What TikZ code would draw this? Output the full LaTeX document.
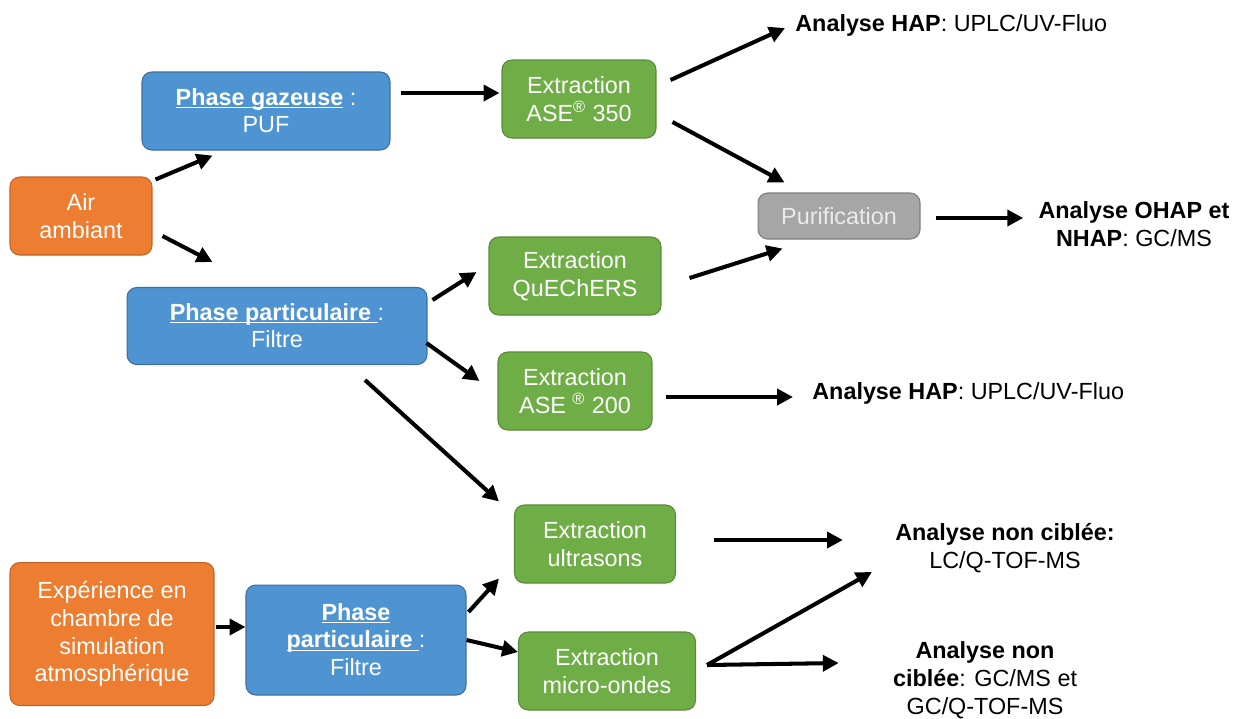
\documentclass[tikz,border=0pt]{standalone}
\usepackage{fontspec}
\setmainfont{Liberation Sans}
\usepackage{xcolor}
\usepackage{tikz}
\usetikzlibrary{arrows.meta, positioning, calc}
\definecolor{airorange}{HTML}{ED7D31}
\definecolor{phaseblue}{HTML}{4F94D2}
\definecolor{extgreen}{HTML}{6FAD46}
\definecolor{purgray}{HTML}{A6A6A6}
\newcommand{\phaseul}[1]{\underline{\smash{\textbf{#1}}}\vphantom{Pg}}

\begin{document}
\begin{tikzpicture}[x=0.02cm, y=-0.02cm,
    basebox/.style={draw, rounded corners=5.5pt, line width=0.6pt, text=white,
        align=center, font=\fontsize{13.3}{15.8}\selectfont, inner sep=2pt},
    srcbox/.style={basebox, fill=airorange, draw=airorange!80!black},
    phasebox/.style={basebox, fill=phaseblue, draw=phaseblue!75!black},
    extbox/.style={basebox, fill=extgreen, draw=extgreen!80!black},
    purbox/.style={basebox, fill=purgray, draw=purgray!75!black, text=white!92!black},
    anatext/.style={align=center, inner sep=0pt, font=\fontsize{13.3}{15.8}\selectfont},
    flow/.style={-{Triangle[length=9pt, width=9pt]}, line width=2.3pt},
]
\useasboundingbox (0,0) rectangle (1236,718);

% --- Air ambiant and its two phases ---
\node[srcbox, minimum width=2.84cm, minimum height=1.56cm] (air) at (81,216) {Air\\ambiant};
\node[phasebox, minimum width=4.96cm, minimum height=1.56cm] (gaz) at (266,111)
    {\phaseul{Phase gazeuse} :\\PUF};
\node[phasebox, minimum width=6.0cm, minimum height=1.54cm] (ppart) at (277,326)
    {\phaseul{Phase particulaire }:\\Filtre};

% --- Extractions and purification ---
\node[extbox, minimum width=3.08cm, minimum height=1.56cm] (ase350) at (579,99) {Extraction\\ASE\textsuperscript{®} 350};
\node[purbox, minimum width=3.24cm, minimum height=0.92cm] (purif) at (839,216) {Purification};
\node[extbox, minimum width=3.44cm, minimum height=1.56cm] (quech) at (575,276) {Extraction\\QuEChERS};
\node[extbox, minimum width=3.08cm, minimum height=1.56cm] (ase200) at (575,391) {Extraction\\ASE \textsuperscript{®} 200};
\node[extbox, minimum width=3.22cm, minimum height=1.56cm] (ultra) at (595,544) {Extraction\\ultrasons};

% --- Simulation chamber branch ---
\node[srcbox, minimum width=4.08cm, minimum height=2.86cm] (exp) at (112,634)
    {Expérience en\\chambre de\\simulation\\atmosphérique};
\node[phasebox, minimum width=4.4cm, minimum height=2.2cm] (pp2) at (356,640)
    {\phaseul{Phase}\\\phaseul{particulaire }:\\Filtre};
\node[extbox, minimum width=3.54cm, minimum height=1.56cm] (micro) at (607,671) {Extraction\\micro-ondes};

% --- Analyses ---
\node[anatext, anchor=west] (hapA) at (795,25) {\textbf{Analyse HAP}: UPLC/UV-Fluo};
\node[anatext] (ohap) at (1134,224) {\textbf{Analyse OHAP et}\\\textbf{NHAP}: GC/MS};
\node[anatext, anchor=west] (hapB) at (812,393) {\textbf{Analyse HAP}: UPLC/UV-Fluo};
\node[anatext] (nc1) at (1005,548) {\textbf{Analyse non ciblée:}\\LC/Q-TOF-MS};
\node[anatext] (nc2) at (985,680) {\textbf{Analyse non}\\\textbf{ciblée}: GC/MS et\\GC/Q-TOF-MS};

% --- Arrows ---
\draw[flow] ([shift={(3,3)}]air.north east) -- ([shift={(71,5)}]gaz.south west);
\draw[flow] ([shift={(10,20)}]air.east) -- ([shift={(86,-25)}]ppart.north west);
\draw[flow] ([shift={(10,-18)}]gaz.east) -- ([shift={(-2,-6)}]ase350.west);
\draw[flow] ([shift={(14,-19)}]ase350.east) -- ([shift={(-10,3)}]hapA.west);
\draw[flow] ([shift={(16,23)}]ase350.east) -- ([shift={(27,-10)}]purif.north west);
\draw[flow] ([shift={(28,2)}]quech.east) -- ([shift={(25,9)}]purif.south west);
\draw[flow] ([shift={(5,-26)}]ppart.east) -- ([shift={(-12,-4)}]quech.west);
\draw[flow] ([shift={(-1,17)}]ppart.east) -- ([shift={(-18,-10)}]ase200.west);
\draw[flow] ([shift={(88,15)}]ppart.south) -- ([shift={(-15,-3)}]ultra.north west);
\draw[flow] ([shift={(13,6)}]ase200.east) -- ([shift={(-19,4)}]hapB.west);
\draw[flow] ([shift={(15,2)}]purif.east) -- ([shift={(-15,-6)}]ohap.west);
\draw[flow] ([shift={(38,-4)}]ultra.east) -- ([shift={(-52,-8)}]nc1.west);
\draw[flow] ([shift={(1,-7)}]exp.east) -- ([shift={(0,-13)}]pp2.west);
\draw[flow] ([shift={(2,-28)}]pp2.east) -- ([shift={(-15,-5)}]ultra.south west);
\draw[flow] (pp2.east) -- ([shift={(0,-19)}]micro.west);
\coordinate (fork) at ([shift={(11,-6)}]micro.east);
\draw[flow] (fork) -- ([shift={(-23,-1)}]nc1.south west);
\draw[flow] (fork) -- ([shift={(-54,-17)}]nc2.west);

\end{tikzpicture}
\end{document}
